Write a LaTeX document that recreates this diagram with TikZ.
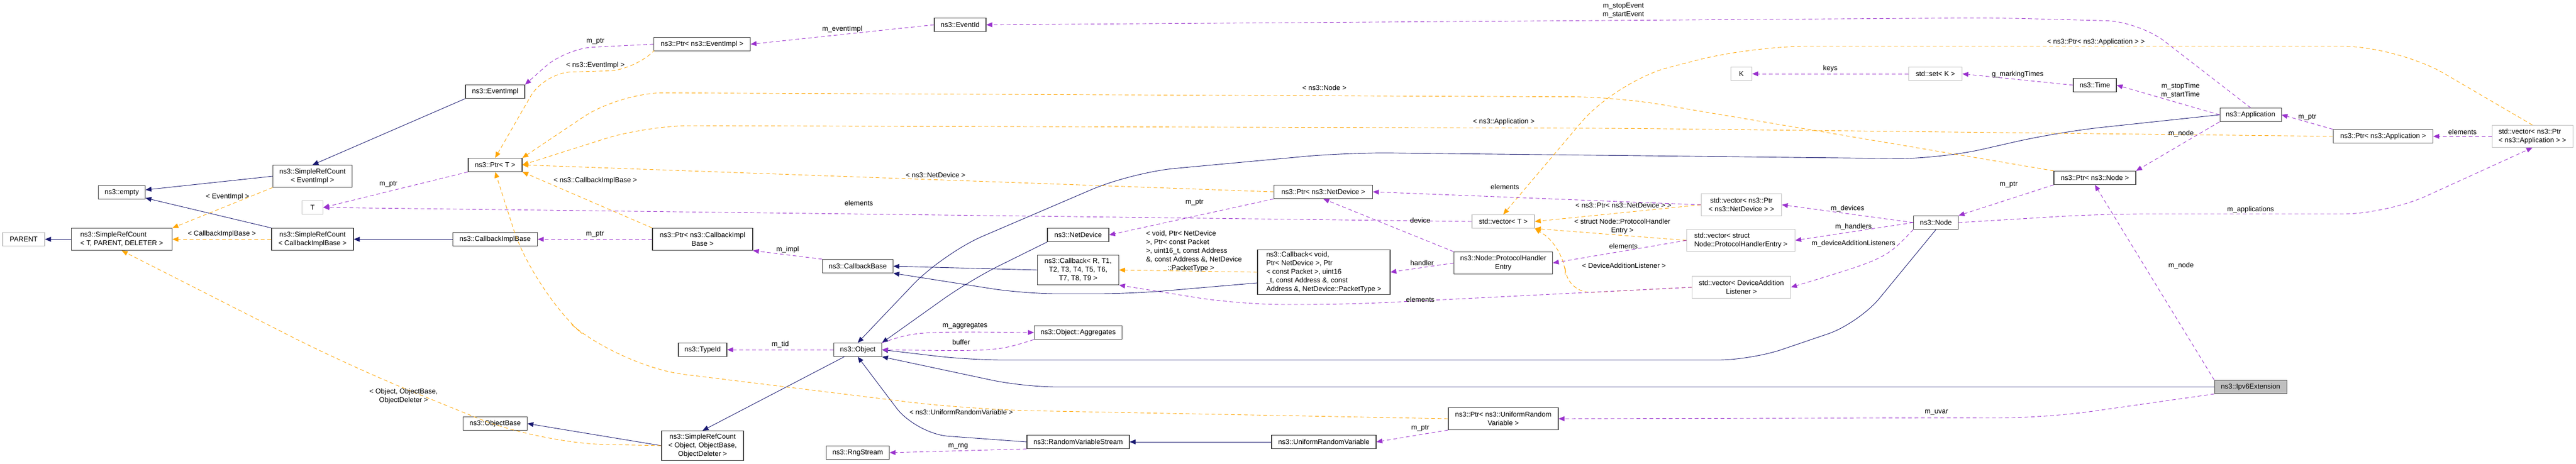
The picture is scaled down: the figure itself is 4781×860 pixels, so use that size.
\documentclass[tikz,border=0pt]{standalone}
\usepackage{fontspec}
\setmainfont{Liberation Sans}
\usetikzlibrary{arrows.meta}
\definecolor{inh}{HTML}{191970}
\definecolor{tpl}{HTML}{FFA500}
\definecolor{use}{HTML}{9A32CD}
\tikzset{
  box/.style={draw=black!75, line width=1.1pt, fill=white, inner sep=0pt, minimum height=25pt, font=\fontsize{13}{16}\selectfont, align=center},
  gbox/.style={box, draw=black!25},
  lab/.style={font=\fontsize{13}{16}\selectfont, inner sep=0pt, align=center},
  tip/.style={-{Triangle[length=11pt,width=9pt]}},
  inhe/.style={tip, draw=inh, line width=0.9pt, -{Triangle[length=11pt,width=9pt,fill=inh]}},
  tple/.style={draw=tpl, line width=0.9pt, dash pattern=on 7pt off 5pt, -{Triangle[length=11pt,width=9pt,fill=tpl]}},
  usee/.style={draw=use, line width=0.9pt, dash pattern=on 7pt off 5pt, -{Triangle[length=11pt,width=9pt,fill=use]}},
}
\begin{document}
\begin{tikzpicture}[x=1pt,y=-1pt]
\useasboundingbox (0,0) rectangle (4781,860);
% nodes
\node[gbox, minimum width=78pt] (parent) at (44,444) {PARENT};
\node[box, minimum width=187pt, minimum height=41pt, align=left] (srcT) at (226,444) {ns3::SimpleRefCount\\< T, PARENT, DELETER >};
\node[box, minimum width=87pt] (empty) at (226,357) {ns3::empty};
\node[box, minimum width=147pt, minimum height=41pt] (srcEI) at (580,327) {ns3::SimpleRefCount\\< EventImpl >};
\node[gbox, minimum width=39pt] (T) at (580,385) {T};
\node[box, minimum width=152pt, minimum height=41pt] (srcCIB) at (580,444) {ns3::SimpleRefCount\\< CallbackImplBase >};
\node[box, minimum width=110pt] (eventimpl) at (919,170) {ns3::EventImpl};
\node[box, minimum width=100pt] (ptrT) at (919,306) {ns3::Ptr< T >};
\node[box, minimum width=157pt] (cib) at (919,444) {ns3::CallbackImplBase};
\node[box, minimum width=119pt] (objbase) at (919,786) {ns3::ObjectBase};
\node[box, minimum width=179pt] (ptrEI) at (1303,82) {ns3::Ptr< ns3::EventImpl >};
\node[box, minimum width=96pt] (eventid) at (1782,46) {ns3::EventId};
\node[box, minimum width=186pt, minimum height=41pt] (ptrCIB) at (1304,444) {ns3::Ptr< ns3::CallbackImpl\\Base >};
\node[box, minimum width=131pt] (cbbase) at (1592,494) {ns3::CallbackBase};
\node[box, minimum width=90pt] (typeid) at (1304,649) {ns3::TypeId};
\node[box, minimum width=89pt] (object) at (1592,649) {ns3::Object};
\node[box, minimum width=152pt, minimum height=55pt] (srcObj) at (1304,827) {ns3::SimpleRefCount\\< Object, ObjectBase,\\ObjectDeleter >};
\node[box, minimum width=117pt] (rng) at (1592,840) {ns3::RngStream};
\node[box, minimum width=114pt] (netdev) at (2001,436) {ns3::NetDevice};
\node[box, minimum width=151pt, minimum height=55pt] (cbR) at (2001,501) {ns3::Callback< R, T1,\\ T2, T3, T4, T5, T6,\\ T7, T8, T9 >};
\node[box, minimum width=163pt] (aggr) at (2001,617) {ns3::Object::Aggregates};
\node[box, minimum width=190pt] (rvs) at (2001,820) {ns3::RandomVariableStream};
\node[box, minimum width=183pt] (ptrND) at (2456,356) {ns3::Ptr< ns3::NetDevice >};
\node[box, minimum width=246pt, minimum height=83pt, align=left] (cbV) at (2457,505) {ns3::Callback< void,\\ Ptr< NetDevice >, Ptr\\< const Packet >, uint16\\\_t, const Address \&, const\\ Address \&, NetDevice::PacketType >};
\node[box, minimum width=194pt] (urv) at (2457,820) {ns3::UniformRandomVariable};
\node[box, minimum width=204pt, minimum height=41pt] (ptrURV) at (2790,777) {ns3::Ptr< ns3::UniformRandom\\Variable >};
\node[gbox, minimum width=116pt] (vecT) at (2790,411) {std::vector< T >};
\node[box, minimum width=183pt, minimum height=41pt] (phe) at (2790,488) {ns3::Node::ProtocolHandler\\Entry};
\node[gbox, minimum width=39pt] (K) at (3232,137) {K};
\node[gbox, minimum width=99pt] (setK) at (3592,137) {std::set< K >};
\node[box, minimum width=80pt] (time) at (3888,158) {ns3::Time};
\node[box, minimum width=152pt] (ptrNode) at (3888,330) {ns3::Ptr< ns3::Node >};
\node[gbox, minimum width=149pt, minimum height=41pt] (vecND) at (3232,380) {std::vector< ns3::Ptr\\< ns3::NetDevice > >};
\node[gbox, minimum width=201pt, minimum height=41pt, align=left] (vecPHE) at (3231,446) {std::vector< struct\\ Node::ProtocolHandlerEntry >};
\node[gbox, minimum width=183pt, minimum height=41pt] (vecDAL) at (3232,533) {std::vector< DeviceAddition\\Listener >};
\node[box, minimum width=83pt] (node) at (3593,413) {ns3::Node};
\node[box, minimum width=114pt] (app) at (4177,213) {ns3::Application};
\node[box, minimum width=185pt] (ptrApp) at (4423,253) {ns3::Ptr< ns3::Application >};
\node[gbox, minimum width=150pt, minimum height=41pt, align=left] (vecApp) at (4700,253) {std::vector< ns3::Ptr\\< ns3::Application > >};
\node[box, minimum width=134pt, fill=black!25] (ipv6) at (4177,718) {ns3::Ipv6Extension};

% inheritance
\draw[inhe] (srcT) -- (parent);
\draw[inhe] (srcEI.west) -- (empty);
\draw[inhe] (srcCIB.north west) -- (empty);
\draw[inhe] (eventimpl.south west) -- (srcEI.north);
\draw[inhe] (cib) -- (srcCIB);
\draw[inhe] (object) -- (srcObj.north);
\draw[inhe] (srcObj.west) -- (objbase.east);
\draw[inhe, rounded corners=60pt] (netdev.south west) -- (1800,520) -- (object.north east);
\draw[inhe] (cbR.west) -- (cbbase.east);
\draw[inhe, rounded corners=60pt] (cbV.west |- 0,525) -- (2100,545) -- (1900,545) -- (cbbase.south east);
\draw[inhe, rounded corners=80pt] (app.west) -- (3820,245) -- (3600,295) -- (2500,283) -- (2100,320) -- (1750,470) -- (object.north);
\draw[inhe, rounded corners=60pt] (node.south) -- (3450,600) -- (3250,668) -- (1800,668) -- (object.east);
\draw[inhe, rounded corners=60pt] (ipv6.west) -- (1900,718) -- (object.south east);
\draw[inhe, rounded corners=60pt] (rvs.west) -- (1700,805) -- (object.south);
\draw[inhe] (urv) -- (rvs);

% templates
\draw[tple] (srcEI.south west) -- node[lab, above=10pt, pos=0.45] (l1) {< EventImpl >} (srcT.north east);
\draw[tple] (srcCIB) -- node[lab, above=3pt] (l2) {< CallbackImplBase >} (srcT);
\draw[tple, rounded corners=120pt] (srcObj.west) -- (1000,822) -- (650,680) -- (srcT.south);
\node[lab] (l3) at (749,735) {< Object, ObjectBase,\\ObjectDeleter >};
\draw[tple, rounded corners=50pt] (ptrEI.south west) -- (1180,130) -- (1010,135) -- (ptrT.north);
\node[lab] (l4) at (1105,121) {< ns3::EventImpl >};
\draw[tple, rounded corners=80pt] (ptrNode.north west) -- (3000,180) -- (1150,172) -- (ptrT.north east);
\node[lab] (l5) at (2458,163) {< ns3::Node >};
\draw[tple, rounded corners=80pt] (ptrApp.west) -- (3000,238) -- (1200,233) -- (ptrT.east);
\node[lab] (l6) at (2791,226) {< ns3::Application >};
\draw[tple] (ptrND.west) -- node[lab, above=3pt, pos=0.45] (l7) {< ns3::NetDevice >} (ptrT.east);
\draw[tple] (ptrCIB.north west) -- (ptrT.south east);
\node[lab] (l8) at (1105,335) {< ns3::CallbackImplBase >};
\draw[tple, rounded corners=120pt] (ptrURV.west) -- (1800,760) -- (1150,680) -- (990,540) -- (ptrT.south);
\node[lab] (l9) at (1784,765) {< ns3::UniformRandomVariable >};
\draw[tple] (cbV.west) -- (cbR.east);
\node[lab, align=left] (l10) at (2216,466) {< void, Ptr< NetDevice\\>, Ptr< const Packet\\>, uint16\_t, const Address\\\&, const Address \&, NetDevice\\\hspace*{40pt}::PacketType >};
\draw[tple, rounded corners=100pt] (vecApp.north) -- (4450,86) -- (3250,86) -- (3000,150) -- (vecT.north);
\node[lab] (l11) at (3890,78) {< ns3::Ptr< ns3::Application > >};
\draw[tple] (vecND.west) -- (vecT.east);
\node[lab] (l12) at (3013,381) {< ns3::Ptr< ns3::NetDevice > >};
\draw[tple] (vecPHE.west) -- (vecT.south east);
\node[lab] (l13) at (3011,420) {< struct Node::ProtocolHandler\\Entry >};
\draw[tple, rounded corners=50pt] (vecDAL.west) -- (2905,545) -- (2905,460) -- (vecT.south east);
\node[lab] (l14) at (3014,493) {< DeviceAdditionListener >};

% usage
\draw[usee] (ptrT.south west) -- node[lab, above=8pt, pos=0.55] (u1) {m\_ptr} (T.east);
\draw[usee] (vecT.west) -- (T.east);
\node[lab] (u2) at (1594,377) {elements};
\draw[usee, rounded corners=50pt] (ptrEI.west) -- (1050,90) -- (eventimpl.north east);
\node[lab] (u3) at (1105,77) {m\_ptr};
\draw[usee] (eventid.west) -- node[lab, above=3pt] (u4) {m\_eventImpl} (ptrEI.east);
\draw[usee, rounded corners=60pt] (app.north) -- (3970,40) -- (3700,33) -- (eventid.east);
\node[lab] (u5) at (3013,19) {m\_stopEvent\\m\_startEvent};
\draw[usee] (ptrCIB.west) -- node[lab, above=3pt] (u6) {m\_ptr} (cib.east);
\draw[usee] (cbbase.north west) -- node[lab, above=3pt] (u7) {m\_impl} (ptrCIB.south east);
\draw[usee] (object.west) -- node[lab, above=3pt] (u8) {m\_tid} (typeid.east);
\draw[usee] (object.north east) .. controls (1700,615) .. (aggr.west);
\node[lab] (u9) at (1791,605) {m\_aggregates};
\draw[usee] (aggr.south west) .. controls (1850,652) .. (object.east);
\node[lab] (u10) at (1784,635) {buffer};
\draw[usee] (rvs.south west) -- node[lab, above=3pt] (u11) {m\_rng} (rng.east);
\draw[usee] (ptrND.south west) -- (netdev.east);
\node[lab] (u12) at (2217,376) {m\_ptr};
\draw[usee] (vecND.west) -- (ptrND.east);
\node[lab] (u13) at (2793,347) {elements};
\draw[usee] (phe.north west) -- (ptrND.south);
\node[lab] (u14) at (2636,409) {device};
\draw[usee] (phe.west) -- node[lab, above=3pt] (u15) {handler} (cbV.east);
\draw[usee, rounded corners=80pt] (vecDAL.west) -- (2500,565) -- (2300,565) -- (cbR.south east);
\node[lab] (u16) at (2636,556) {elements};
\draw[usee] (vecPHE.west) -- (phe.east);
\node[lab] (u17) at (3013,457) {elements};
\draw[usee] (node.west) -- node[lab, above=3pt] (u18) {m\_devices} (vecND.east);
\draw[usee] (node.west) -- (vecPHE.east);
\node[lab] (u19) at (3440,421) {m\_handlers};
\draw[usee] (node.south west) .. controls (3500,480) .. (vecDAL.east);
\node[lab] (u20) at (3440,452) {m\_deviceAdditionListeners};
\draw[usee] (ptrNode.south west) -- (node.north east);
\node[lab] (u21) at (3728,343) {m\_ptr};
\draw[usee] (app.south west) -- (ptrNode.north east);
\node[lab] (u22) at (4048,248) {m\_node};
\draw[usee] (app.west) -- (time.east);
\node[lab] (u23) at (4047,168) {m\_stopTime\\m\_startTime};
\draw[usee] (time.west) -- node[lab, above=3pt] (u24) {g\_markingTimes} (setK.east);
\draw[usee] (setK.west) -- node[lab, above=3pt] (u25) {keys} (K.east);
\draw[usee] (ptrApp.north west) -- node[lab, above=3pt] (u26) {m\_ptr} (app.east);
\draw[usee] (vecApp.west) -- node[lab, above=3pt] (u27) {elements} (ptrApp.east);
\draw[usee, rounded corners=80pt] (node.east) -- (3900,397) -- (4430,397) -- (vecApp.south);
\node[lab] (u28) at (4177,389) {m\_applications};
\draw[usee] (ipv6.north west) -- (ptrNode.south);
\node[lab] (u29) at (4048,493) {m\_node};
\draw[usee, rounded corners=80pt] (ipv6.south west) -- (3800,775) -- (ptrURV.east);
\node[lab] (u30) at (3594,765) {m\_uvar};
\draw[usee] (ptrURV.south west) -- (urv.east);
\node[lab] (u31) at (2636,795) {m\_ptr};
\end{tikzpicture}
\end{document}
